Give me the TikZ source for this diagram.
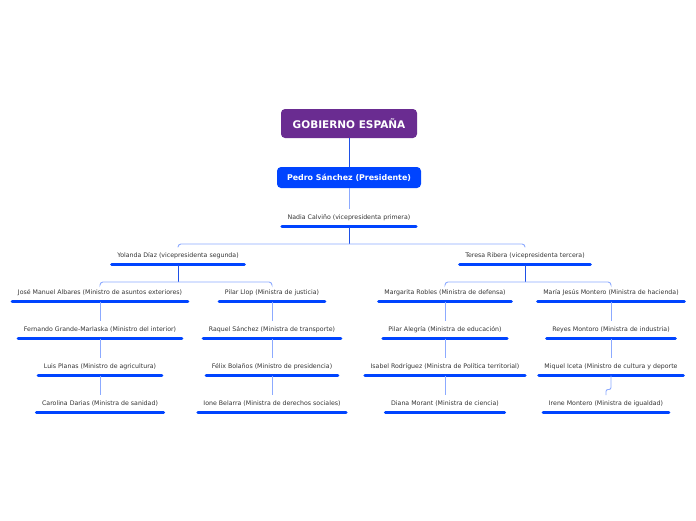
\documentclass[tikz,border=0pt]{standalone}
\usepackage{fontspec}
\setmainfont{DejaVu Sans}
\usetikzlibrary{positioning}

\definecolor{gobpurple}{RGB}{106,44,145}
\definecolor{gobblue}{RGB}{0,68,255}
\definecolor{gobtrunk}{RGB}{30,80,230}
\definecolor{goblight}{RGB}{140,170,255}

\begin{document}
\begin{tikzpicture}[
    x=1pt, y=-1pt,
    node distance=19.5pt and 0pt,
    rootbox/.style={rectangle, rounded corners=4pt, fill=gobpurple, text=white, minimum width=136pt, minimum height=29pt, font=\fontsize{10.5}{12}\selectfont\bfseries},
    presbox/.style={rectangle, rounded corners=4pt, fill=gobblue, text=white, minimum width=144pt, minimum height=21pt, font=\fontsize{7.9}{9}\selectfont\bfseries},
    person/.style={rectangle, inner xsep=5.5pt, inner ysep=0pt, minimum height=17pt, font=\fontsize{6.25}{7}\selectfont, text=black!80},
    uline/.style={gobblue, line width=3pt, line cap=round},
    trunk/.style={gobtrunk, line width=0.9pt},
    conn/.style={goblight, line width=0.9pt, rounded corners=3pt}
  ]
    \useasboundingbox (0,0) rectangle (696,520);

    % top of the tree
    \node[rootbox] (gobierno) at (349,123.5) {GOBIERNO ESPAÑA};
    \node[presbox] (pedro) at (349,177.5) {Pedro Sánchez (Presidente)};
    \node[person] (nadia) at (349,218) {Nadia Calviño (vicepresidenta primera)};

    % vicepresidents
    \node[person] (yolanda) at (178,256) {Yolanda Díaz (vicepresidenta segunda)};
    \node[person] (teresa) at (525,256) {Teresa Ribera (vicepresidenta tercera)};

    % ministers under Yolanda
    \node[person] (albares) at (100,293) {José Manuel Albares (Ministro de asuntos exteriores)};
    \node[person, below=of albares] (marlaska) {Fernando Grande-Marlaska (Ministro del interior)};
    \node[person, below=of marlaska] (planas) {Luis Planas (Ministro de agricultura)};
    \node[person, below=of planas] (darias) {Carolina Darias (Ministra de sanidad)};

    \node[person] (llop) at (272,293) {Pilar Llop (Ministra de justicia)};
    \node[person, below=of llop] (raquel) {Raquel Sánchez (Ministra de transporte)};
    \node[person, below=of raquel] (bolanos) {Félix Bolaños (Ministro de presidencia)};
    \node[person, below=of bolanos] (belarra) {Ione Belarra (Ministra de derechos sociales)};

    % ministers under Teresa
    \node[person] (robles) at (445,293) {Margarita Robles (Ministra de defensa)};
    \node[person, below=of robles] (alegria) {Pilar Alegría (Ministra de educación)};
    \node[person, below=of alegria] (rodriguez) {Isabel Rodríguez (Ministra de Política territorial)};
    \node[person, below=of rodriguez] (morant) {Diana Morant (Ministra de ciencia)};

    \node[person] (montero) at (611,293) {María Jesús Montero (Ministra de hacienda)};
    \node[person, below=of montero] (reyes) {Reyes Montoro (Ministra de industria)};
    \node[person, below=of reyes] (iceta) {Miquel Iceta (Ministro de cultura y deporte};
    \node[person, below=of iceta, xshift=-5pt] (irene) {Irene Montero (Ministra de igualdad)};

    % underlines
    \foreach \n in {nadia, yolanda, teresa, albares, marlaska, planas, darias,
                    llop, raquel, bolanos, belarra, robles, alegria, rodriguez, morant,
                    montero, reyes, iceta, irene}
      \draw[uline] (\n.south west) -- (\n.south east);

    % forks
    \coordinate (forkvp) at (349,244);
    \coordinate (forkyo) at (178,282);
    \coordinate (forkte) at (525,282);

    % connectors
    \draw[trunk] (gobierno) -- (pedro);
    \draw[conn] (pedro) -- (nadia.north);
    \draw[trunk] (nadia.south) -- (forkvp);
    \draw[conn] (forkvp) -| (yolanda.north);
    \draw[conn] (forkvp) -| (teresa.north);

    \draw[trunk] (yolanda.south) -- (forkyo);
    \draw[conn] (forkyo) -| (albares.north);
    \draw[conn] (forkyo) -| (llop.north);
    \draw[trunk] (teresa.south) -- (forkte);
    \draw[conn] (forkte) -| (robles.north);
    \draw[conn] (forkte) -| (montero.north);

    \draw[conn] (albares.south) -- (marlaska.north);
    \draw[conn] (marlaska.south) -- (planas.north);
    \draw[conn] (planas.south) -- (darias.north);
    \draw[conn] (llop.south) -- (raquel.north);
    \draw[conn] (raquel.south) -- (bolanos.north);
    \draw[conn] (bolanos.south) -- (belarra.north);
    \draw[conn] (robles.south) -- (alegria.north);
    \draw[conn] (alegria.south) -- (rodriguez.north);
    \draw[conn] (rodriguez.south) -- (morant.north);
    \draw[conn] (montero.south) -- (reyes.north);
    \draw[conn] (reyes.south) -- (iceta.north);
    \draw[conn, rounded corners=2pt] (iceta.south) -- ++(0,14) -| (irene.north);
  \end{tikzpicture}
\end{document}
